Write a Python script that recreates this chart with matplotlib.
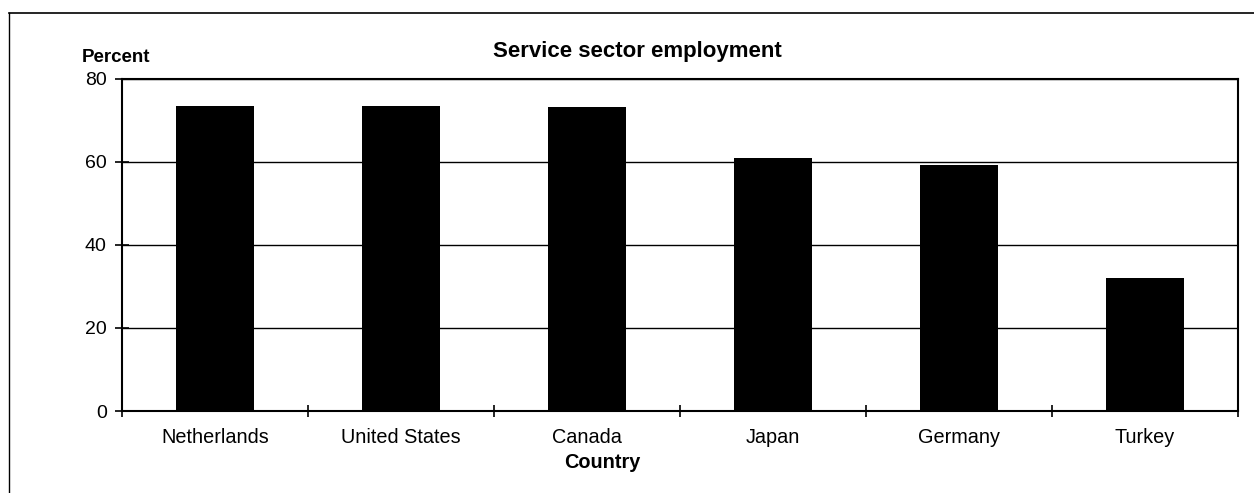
import matplotlib
matplotlib.use("Agg")
import matplotlib.pyplot as plt
from matplotlib.lines import Line2D
import numpy as np

countries = ["Netherlands", "United States", "Canada", "Japan", "Germany", "Turkey"]
values = [73.6, 73.4, 73.2, 60.9, 59.2, 32.0]
yticks = [0, 20, 40, 60, 80]

plt.rcParams['font.family'] = ['Liberation Sans', 'DejaVu Sans']

fig = plt.figure(figsize=(12.54, 4.93), dpi=100)
ax = fig.add_axes([122/1254, 1-411/493, (1238-122)/1254, (411-79)/493])

x = np.arange(len(countries))
ax.bar(x, values, width=0.42, color='black', zorder=3)
ax.set_xlim(-0.5, len(countries) - 0.5)
ax.set_ylim(0, 80)
ax.set_yticks(yticks)
ax.set_yticklabels([str(v) for v in yticks], fontsize=14)
ax.yaxis.grid(True, color='black', linewidth=1.0, zorder=1)
ax.set_axisbelow(True)

ax.set_xticks(np.arange(len(countries) + 1) - 0.5)
ax.set_xticklabels([])
ax.set_xticks(x, minor=True)
ax.set_xticklabels(countries, minor=True, fontsize=14.3)
ax.tick_params(axis='x', which='minor', length=0, pad=12)
ax.tick_params(axis='x', which='major', direction='inout', length=9, width=1.2)
ax.tick_params(axis='y', direction='inout', length=10, width=1.2, pad=6)

for s in ax.spines.values():
    s.set_linewidth(1.5)
    s.set_color('black')

fig.text(637/1254, 1-52/493, "Service sector employment", ha='center', va='center',
         fontsize=16, fontweight='bold')
fig.text(82/1254, 1-57/493, "Percent", ha='left', va='center',
         fontsize=13.5, fontweight='bold')
fig.text(602/1254, 1-462/493, "Country", ha='center', va='center',
         fontsize=14.3, fontweight='bold')

fig.add_artist(Line2D([9/1254, 1.0], [1-13/493, 1-13/493], transform=fig.transFigure,
                      color='black', linewidth=1.2))
fig.add_artist(Line2D([9/1254, 9/1254], [0, 1-13/493], transform=fig.transFigure,
                      color='black', linewidth=1.0))

fig.savefig("out.png", dpi=100)
